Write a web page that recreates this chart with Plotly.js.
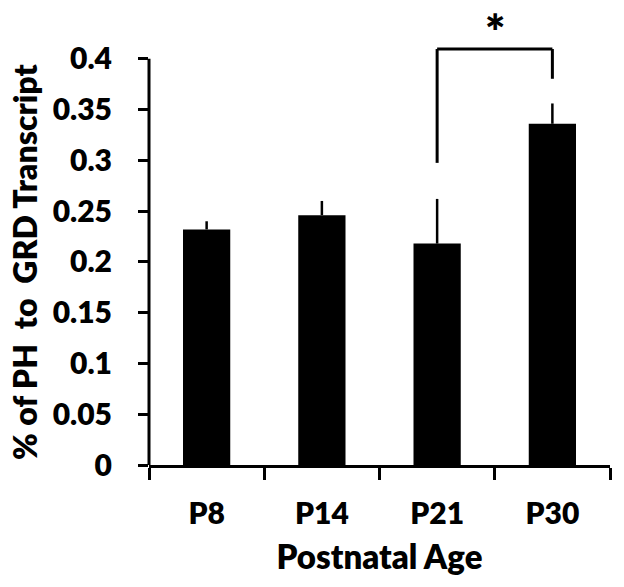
<!DOCTYPE html>
<html>
<head>
<meta charset="utf-8">
<script src="https://cdn.plot.ly/plotly-3.0.1.min.js"></script>
<style>html,body{margin:0;padding:0;background:#fff;}#chart{width:624px;height:587px;}</style>
</head>
<body>
<div id="chart"></div>
<script>
// ---- data ----
const categories = ['P8', 'P14', 'P21', 'P30'];
const values = [0.232, 0.246, 0.218, 0.336];
const errUp = [0.008, 0.014, 0.044, 0.020];
const yTickVals = [0, 0.05, 0.1, 0.15, 0.2, 0.25, 0.3, 0.35, 0.4];
const yTickText = ['0', '0.05', '0.1', '0.15', '0.2', '0.25', '0.3', '0.35', '0.4'];
const xTitle = 'Postnatal Age';
const yTitle = '% of PH\u00a0 to\u00a0 GRD Transcript';
// significance bracket
const bracketFrom = 'P21';
const bracketTo = 'P30';
const bracketTop = 0.4096;
const bracketLeftBottom = 0.2975;
const bracketRightBottom = 0.3803;
const starLabel = '*';

const FONT = 'Lato';
const WEIGHT = 800;
const i0 = categories.indexOf(bracketFrom);
const i1 = categories.indexOf(bracketTo);
const lineStyle = {color: '#000', width: 3};

const trace = {
  type: 'bar',
  x: categories,
  y: values,
  marker: {color: '#000', line: {width: 0}},
  error_y: {type: 'data', symmetric: false, array: errUp, arrayminus: errUp.map(() => 0),
            color: '#000', thickness: 2.5, width: 0},
  hoverinfo: 'none'
};

const layout = {
  width: 624, height: 587,
  margin: {l: 149, r: 14, t: 8, b: 122},
  paper_bgcolor: '#fff', plot_bgcolor: '#fff',
  showlegend: false,
  bargap: 0.59,
  font: {family: FONT, color: '#000'},
  xaxis: {
    type: 'category',
    showline: true, linecolor: '#000', linewidth: 3,
    ticks: 'outside', tickson: 'boundaries', ticklen: 12, tickwidth: 3, tickcolor: '#000',
    tickfont: {family: FONT, size: 30, weight: WEIGHT},
    ticklabelstandoff: 20,
    showgrid: false, zeroline: false,
    title: {text: xTitle, font: {family: FONT, size: 33, weight: WEIGHT}, standoff: 17}
  },
  yaxis: {
    range: [0, 0.45],
    tickvals: yTickVals, ticktext: yTickText,
    showline: false,
    ticks: 'outside', ticklen: 10, tickwidth: 3, tickcolor: '#000',
    tickfont: {family: FONT, size: 30, weight: WEIGHT},
    ticklabelstandoff: 20,
    showgrid: false, zeroline: false
  },
  shapes: [
    {type: 'line', xref: 'paper', yref: 'y', x0: 0, x1: 0, y0: 0, y1: yTickVals[yTickVals.length - 1], line: lineStyle, layer: 'above'},
    {type: 'line', xref: 'x', yref: 'y', x0: i0, x1: i0, y0: bracketLeftBottom, y1: bracketTop, line: lineStyle},
    {type: 'line', xref: 'x', yref: 'y', x0: i0, x1: i1, y0: bracketTop, y1: bracketTop, line: lineStyle},
    {type: 'line', xref: 'x', yref: 'y', x0: i1, x1: i1, y0: bracketRightBottom, y1: bracketTop, line: lineStyle}
  ],
  annotations: [
    {xref: 'x', yref: 'paper', x: (i0 + i1) / 2, y: 1, yshift: 8, text: starLabel, showarrow: false,
     font: {family: FONT, size: 48, weight: WEIGHT}, xanchor: 'center', yanchor: 'top'},
    {xref: 'paper', yref: 'y', x: 0, y: 0.2, xshift: -124, text: yTitle, textangle: -90, showarrow: false,
     font: {family: FONT, size: 32, weight: WEIGHT}, xanchor: 'center', yanchor: 'middle'}
  ]
};

Plotly.newPlot('chart', [trace], layout, {displayModeBar: false, staticPlot: true});
</script>
</body>
</html>
